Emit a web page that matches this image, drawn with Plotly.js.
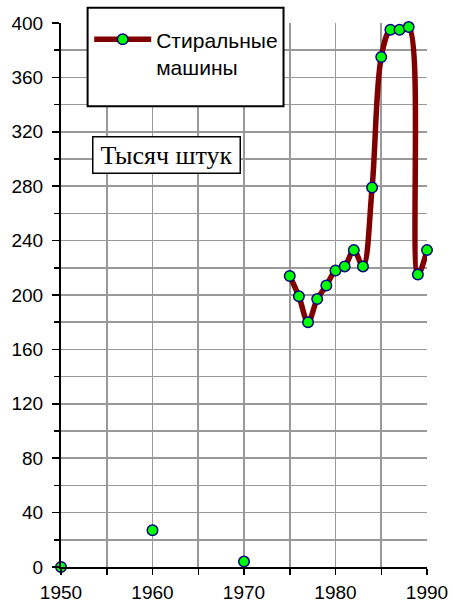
<!DOCTYPE html>
<html>
<head>
<meta charset="utf-8">
<script src="https://cdn.plot.ly/plotly-3.0.1.min.js"></script>
<style>
html,body{margin:0;padding:0;background:#fff;}
#chart{width:453px;height:605px;}
</style>
</head>
<body>
<div id="chart"></div>
<script>
// Early isolated observations (no line)
var yearsEarly = [1950, 1960, 1970];
var valuesEarly = [0, 27, 4];
// Continuous series
var years = [1975, 1976, 1977, 1978, 1979, 1980, 1981, 1982, 1983, 1984, 1985, 1986, 1987, 1988, 1989, 1990];
var values = [214, 199, 180, 197, 207, 218, 221, 233, 221, 279, 375, 395, 395, 397, 215, 233];
var seriesName = "Стиральные<br>машины";
var unitLabel = "Тысяч штук";
var xTickVals = [1950, 1960, 1970, 1980, 1990];
var yTickVals = [0, 40, 80, 120, 160, 200, 240, 280, 320, 360, 400];

var markerStyle = {
  symbol: "circle",
  size: 10.5,
  color: "#00ff00",
  line: {color: "#000080", width: 1.5}
};

var traces = [
  {
    x: yearsEarly, y: valuesEarly,
    type: "scatter", mode: "markers",
    marker: markerStyle,
    showlegend: false,
    cliponaxis: false,
    hoverinfo: "skip"
  },
  {
    x: years, y: values,
    type: "scatter", mode: "lines+markers",
    name: seriesName,
    line: {color: "#800000", width: 5.5, shape: "spline", smoothing: 1},
    marker: markerStyle,
    cliponaxis: false
  }
];

var fontSans = "Liberation Sans, Arial, sans-serif";

var layout = {
  width: 453,
  height: 605,
  margin: {l: 61, r: 26, t: 23, b: 38, pad: 0},
  paper_bgcolor: "#ffffff",
  plot_bgcolor: "#ffffff",
  font: {family: fontSans, color: "#000000", size: 19},
  xaxis: {
    range: [1950, 1990],
    tickmode: "array",
    tickvals: xTickVals,
    ticks: "outside",
    ticklen: 6,
    tickwidth: 1.5,
    tickcolor: "#000",
    ticklabelstandoff: 1,
    tickfont: {family: fontSans, size: 19, color: "#000"},
    showline: true,
    linecolor: "#000",
    linewidth: 2,
    showgrid: true,
    gridcolor: "#999999",
    gridwidth: 1.7,
    zeroline: false,
    minor: {dtick: 5, tick0: 1950, ticks: "outside", ticklen: 6, tickwidth: 1.5, tickcolor: "#000", showgrid: true, gridcolor: "#999999", gridwidth: 1.7},
    fixedrange: true
  },
  yaxis: {
    range: [0, 400],
    tickmode: "array",
    tickvals: yTickVals,
    ticks: "outside",
    ticklen: 7,
    tickwidth: 1.5,
    tickcolor: "#000",
    ticklabelstandoff: 5,
    tickfont: {family: fontSans, size: 19, color: "#000"},
    showline: true,
    linecolor: "#000",
    linewidth: 2,
    showgrid: true,
    gridcolor: "#999999",
    gridwidth: 1.7,
    zeroline: false,
    minor: {dtick: 20, tick0: 0, ticks: "outside", ticklen: 5, tickwidth: 1.5, tickcolor: "#000", showgrid: true, gridcolor: "#999999", gridwidth: 1.7},
    fixedrange: true
  },
  showlegend: true,
  legend: {
    x: 0.077, y: 1.007,
    xanchor: "left", yanchor: "top",
    bgcolor: "rgba(0,0,0,0)",
    borderwidth: 0,
    valign: "top",
    itemwidth: 57,
    font: {family: fontSans, size: 21, color: "#000"}
  },
  shapes: [
    {
      type: "rect", xref: "paper", yref: "paper",
      x0: 0.0727, x1: 0.608, y0: 0.847, y1: 1.028,
      fillcolor: "#ffffff",
      line: {color: "#000", width: 2},
      layer: "above"
    }
  ],
  annotations: [
    {
      text: unitLabel,
      xref: "paper", yref: "paper",
      x: 0.2874, y: 0.7565,
      xanchor: "center", yanchor: "middle",
      showarrow: false,
      font: {family: "Liberation Serif, Times New Roman, serif", size: 26, color: "#000"},
      bgcolor: "#ffffff",
      bordercolor: "#000",
      borderwidth: 1.5,
      borderpad: 1,
      width: 144,
      height: 33
    }
  ]
};

Plotly.newPlot("chart", traces, layout, {displayModeBar: false, staticPlot: true});
</script>
</body>
</html>
